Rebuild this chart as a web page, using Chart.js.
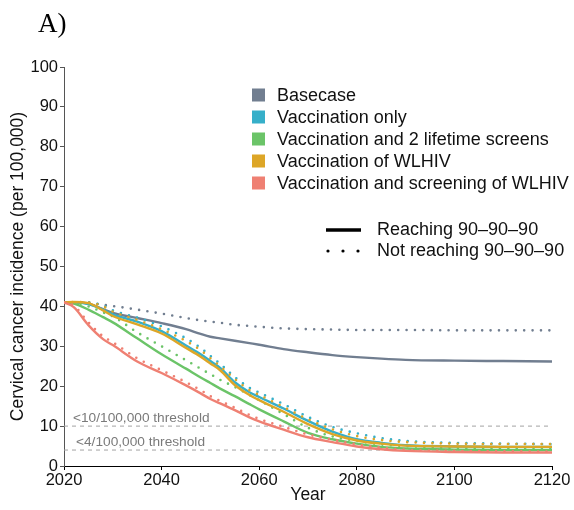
<!DOCTYPE html>
<html>
<head>
<meta charset="utf-8">
<script src="https://cdn.jsdelivr.net/npm/chart.js@4/dist/chart.umd.min.js"></script>
<style>
  html, body { margin: 0; padding: 0; background: #fff; }
  canvas { display: block; }
</style>
</head>
<body>
<canvas id="incidenceChart" width="574" height="510"></canvas>
<script>
const FONT = "'Liberation Sans', Arial, Helvetica, sans-serif";

// model years shared by every scenario
const years = [2020, 2022, 2025, 2028, 2030, 2035, 2040, 2045, 2048, 2050, 2052, 2055,
  2058, 2060, 2065, 2070, 2075, 2080, 2085, 2090, 2100, 2110, 2120];

const scenarioNames = [
  "Basecase",
  "Vaccination only",
  "Vaccination and 2 lifetime screens",
  "Vaccination of WLHIV",
  "Vaccination and screening of WLHIV",
];
const scenarioColors = ["#717e90", "#36afc9", "#6bc468", "#dda627", "#ef8073"];

// incidence per 100,000 when 90-90-90 is reached
const basecaseReach = [41, 41, 40.7, 39.3, 38.4, 37.1, 35.8, 34.3, 33.1, 32.4, 32.0, 31.4,
  30.8, 30.4, 29.3, 28.5, 27.8, 27.3, 26.9, 26.6, 26.4, 26.3, 26.2];
const vaccOnlyReach = [41, 41, 40.6, 39.2, 38.0, 36.2, 33.8, 30.2, 28.0, 26.3, 24.6, 21.0,
  18.5, 17.3, 14.4, 11.3, 8.6, 6.7, 5.8, 5.2, 4.9, 4.8, 4.8];
const vaccScreensReach = [41, 40.7, 39.2, 37.3, 36.0, 32.0, 28.0, 24.4, 22.2, 20.8, 19.4, 17.5,
  15.5, 14.2, 11.2, 8.3, 6.7, 5.6, 4.8, 4.4, 4.1, 4.0, 4.0];
const vaccWlhivReach = [41, 41.1, 40.8, 39.0, 37.6, 35.5, 33.2, 29.6, 27.4, 25.7, 24.0, 20.3,
  17.8, 16.5, 13.6, 10.5, 8.0, 6.4, 5.6, 5.1, 4.9, 4.8, 4.8];
const vaccScreenWlhivReach = [41, 39.8, 35.3, 31.8, 30.3, 26.2, 23.3, 20.2, 18.2, 16.8, 15.7, 14.0,
  12.2, 11.2, 9.1, 7.2, 6.0, 4.9, 4.2, 3.8, 3.5, 3.4, 3.4];

// incidence per 100,000 when 90-90-90 is not reached
const basecaseMiss = [41, 41, 40.9, 40.4, 40.1, 39.2, 38.2, 37.1, 36.5, 36.2, 35.9, 35.4,
  35.1, 34.9, 34.5, 34.3, 34.2, 34.1, 34.1, 34.1, 34.0, 34.0, 34.0];
const vaccOnlyMiss = [41, 41, 41, 40.2, 39.0, 37.2, 35.0, 32.0, 29.6, 27.6, 25.6, 22.3,
  19.6, 18.4, 15.5, 12.3, 9.8, 8.2, 7.0, 6.3, 5.8, 5.6, 5.5];
const vaccScreensMiss = [41, 41, 40.0, 38.5, 37.5, 33.5, 30.0, 26.5, 24.4, 23.0, 21.6, 19.8,
  17.8, 16.5, 13.0, 9.6, 7.4, 6.3, 5.4, 5.0, 4.5, 4.4, 4.3];
const vaccWlhivMiss = [41, 41.1, 41, 40.0, 38.7, 36.6, 34.3, 31.3, 29.0, 27.0, 25.0, 21.8,
  19.0, 17.8, 14.8, 11.7, 9.2, 7.5, 6.5, 6.0, 5.6, 5.5, 5.5];
const vaccScreenWlhivMiss = [41, 40.2, 36.0, 32.5, 31.0, 27.0, 24.0, 21.0, 19.0, 17.5, 16.3, 14.6,
  12.8, 11.8, 9.8, 7.9, 6.6, 5.4, 4.6, 4.1, 3.8, 3.7, 3.6];

const reachSeries = [basecaseReach, vaccOnlyReach, vaccScreensReach, vaccWlhivReach, vaccScreenWlhivReach];
const missSeries = [basecaseMiss, vaccOnlyMiss, vaccScreensMiss, vaccWlhivMiss, vaccScreenWlhivMiss];

const thresholds = [10, 4];
const thresholdLabels = ["<10/100,000 threshold", "<4/100,000 threshold"];

function lineSet(values, color, dotted, order) {
  return {
    data: values.map((v, i) => ({ x: years[i], y: v })),
    borderColor: color,
    borderWidth: dotted ? 2.6 : 2.4,
    borderDash: dotted ? [0, 8.4] : [],
    borderCapStyle: dotted ? "round" : "butt",
    pointRadius: 0,
    cubicInterpolationMode: "monotone",
    fill: false,
    order: order,
  };
}

const datasets = [];
scenarioColors.forEach((c, i) => {
  datasets.push(lineSet(missSeries[i], c, true, 10 - i * 2));
  datasets.push(lineSet(reachSeries[i], c, false, 9 - i * 2));
});
thresholds.forEach((t) => {
  datasets.push({
    data: [{ x: 2020, y: t }, { x: 2120, y: t }],
    borderColor: "#a3a3a3",
    borderWidth: 1,
    borderDash: [4, 4],
    pointRadius: 0,
    order: 20,
  });
});

// panel letter, threshold captions and the two legends
const decorations = {
  id: "decorations",
  afterDraw(chart) {
    const ctx = chart.ctx;
    const y = chart.scales.y;
    const area = chart.chartArea;
    ctx.save();

    ctx.fillStyle = "#000";
    ctx.font = "27px 'Liberation Serif', 'Times New Roman', serif";
    ctx.textBaseline = "alphabetic";
    ctx.textAlign = "left";
    ctx.fillText("A)", 38, 32);

    ctx.fillStyle = "#7a7a7a";
    ctx.font = "13.7px " + FONT;
    thresholds.forEach((t, i) => {
      ctx.fillText(thresholdLabels[i], area.left + 9 + i * 3, y.getPixelForValue(t) - 4);
    });

    ctx.font = "18px " + FONT;
    ctx.textBaseline = "middle";
    scenarioNames.forEach((name, i) => {
      const cy = 95 + i * 22;
      ctx.fillStyle = scenarioColors[i];
      ctx.fillRect(252, cy - 6.5, 13, 13);
      ctx.fillStyle = "#111";
      ctx.fillText(name, 277, cy + 1);
    });

    ctx.strokeStyle = "#000";
    ctx.lineWidth = 3.5;
    ctx.beginPath();
    ctx.moveTo(326, 230);
    ctx.lineTo(361, 230);
    ctx.stroke();
    ctx.fillStyle = "#000";
    [328, 343, 358].forEach((dx) => {
      ctx.beginPath();
      ctx.arc(dx, 251, 1.6, 0, Math.PI * 2);
      ctx.fill();
    });
    ctx.fillStyle = "#111";
    ctx.fillText("Reaching 90\u201390\u201390", 377, 230);
    ctx.fillText("Not reaching 90\u201390\u201390", 377, 251);
    ctx.restore();
  },
};

new Chart(document.getElementById("incidenceChart"), {
  type: "line",
  data: { datasets: datasets },
  options: {
    responsive: false,
    animation: false,
    devicePixelRatio: 1,
    layout: { padding: { left: 0, right: 22, top: 67, bottom: 0 } },
    plugins: { legend: { display: false }, tooltip: { enabled: false } },
    scales: {
      x: {
        type: "linear",
        min: 2020,
        max: 2120,
        ticks: {
          stepSize: 20,
          maxRotation: 0,
          padding: 1,
          color: "#111",
          font: { family: FONT, size: 16.5 },
          callback: (v) => String(v),
        },
        grid: { drawOnChartArea: false, tickLength: 4, color: "#000" },
        border: { color: "#000", width: 1 },
        title: {
          display: true,
          text: "Year",
          color: "#111",
          font: { family: FONT, size: 17.5 },
          padding: { top: 0, bottom: 4 },
        },
        afterFit: (s) => { s.height = 44; },
      },
      y: {
        min: 0,
        max: 100,
        ticks: {
          stepSize: 10,
          padding: 2,
          color: "#111",
          font: { family: FONT, size: 16.5 },
        },
        grid: { drawOnChartArea: false, tickLength: 4, color: "#555" },
        border: { color: "#555", width: 1 },
        title: {
          display: true,
          text: "Cervical cancer incidence (per 100,000)",
          color: "#111",
          font: { family: FONT, size: 17.5 },
          padding: { top: 8, bottom: 0 },
        },
        afterFit: (s) => { s.width = 64; },
      },
    },
  },
  plugins: [decorations],
});
</script>
</body>
</html>
